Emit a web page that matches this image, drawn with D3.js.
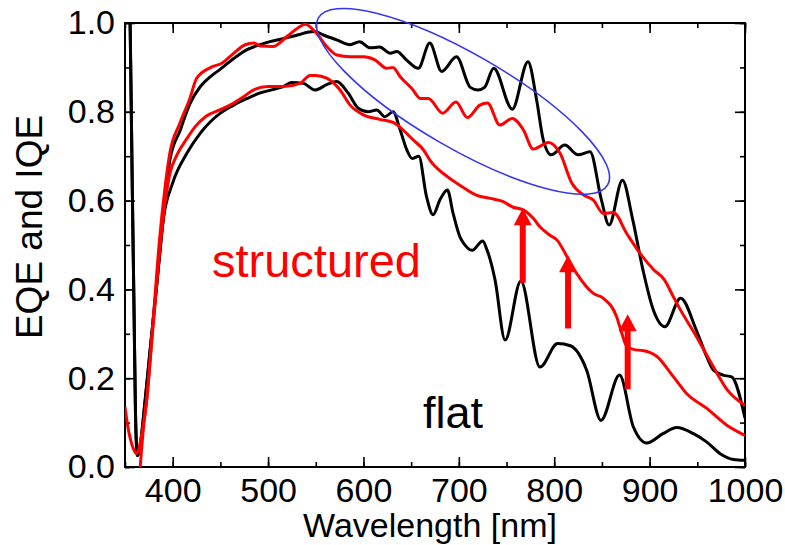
<!DOCTYPE html>
<html>
<head>
<meta charset="utf-8">
<script src="https://cdn.jsdelivr.net/npm/d3@7"></script>
<style>
  body { margin: 0; background: #fff; }
  text { font-family: "Liberation Sans", Arial, sans-serif; }
</style>
</head>
<body>
<script>
// flat cell, IQE (upper black)
const wlFlatIQE = [353, 355.5, 357.5, 359.5, 361, 363, 365.5, 369, 376, 383, 390, 397, 408, 418, 429, 440, 450, 464, 478, 490, 502, 518, 533, 541, 549, 558, 572, 586, 596, 607, 617, 628, 635, 645, 657.5, 669.5, 682, 697.5, 712, 720, 727, 736.5, 756, 772.5, 781.5, 788.5, 797, 811, 825, 837.5, 849.5, 857.5, 871.5, 882, 893, 904, 916, 932.5, 949, 960, 967, 977, 986, 1000];
const flatIQE = [1.25, 0.98, 0.65, 0.35, 0.12, 0.026, 0.04, 0.105, 0.256, 0.405, 0.556, 0.691, 0.759, 0.818, 0.857, 0.88, 0.896, 0.92, 0.94, 0.95, 0.958, 0.966, 0.974, 0.979, 0.981, 0.973, 0.962, 0.951, 0.958, 0.944, 0.946, 0.932, 0.936, 0.917, 0.898, 0.955, 0.891, 0.924, 0.855, 0.849, 0.855, 0.898, 0.806, 0.913, 0.827, 0.737, 0.703, 0.725, 0.703, 0.71, 0.601, 0.545, 0.646, 0.56, 0.444, 0.353, 0.316, 0.38, 0.308, 0.248, 0.218, 0.207, 0.203, 0.11];

// flat cell, EQE (lower black)
const wlFlatEQE = [353, 355.5, 357.5, 359.5, 361, 363, 365.5, 369, 376, 383, 390, 400, 415, 429, 450, 463, 478, 491, 505, 516, 525, 537, 549, 561.5, 572, 584, 594.5, 605, 614, 622.5, 631, 638.5, 645.5, 651, 658, 666, 673, 680, 688, 694, 701, 705, 714, 725, 729.5, 733, 738, 748.5, 765, 785, 803.5, 817, 834, 849, 868.5, 883, 897, 914, 928.5, 946, 960, 974, 988, 1000];
const flatEQE = [1.25, 0.98, 0.65, 0.35, 0.12, 0.026, 0.04, 0.105, 0.256, 0.405, 0.556, 0.64, 0.707, 0.752, 0.797, 0.814, 0.83, 0.842, 0.85, 0.857, 0.866, 0.864, 0.849, 0.861, 0.868, 0.842, 0.808, 0.8, 0.804, 0.789, 0.8, 0.759, 0.714, 0.695, 0.7, 0.61, 0.568, 0.601, 0.624, 0.571, 0.519, 0.504, 0.488, 0.509, 0.489, 0.466, 0.421, 0.286, 0.419, 0.225, 0.278, 0.273, 0.218, 0.105, 0.207, 0.09, 0.054, 0.075, 0.089, 0.075, 0.056, 0.03, 0.017, 0.015];

// structured cell, IQE (upper red)
const wlStructIQE = [350, 353, 356, 359, 362, 365, 368, 372.5, 379.5, 386.5, 392, 397, 407.5, 418, 425, 440, 452, 463, 476, 485, 492, 505, 520, 532, 539, 549, 561.5, 572, 586, 600, 612, 624.5, 631, 638.5, 650.5, 660, 668, 683, 697, 709, 722, 730, 743, 756, 767.5, 778, 794, 806, 818.5, 830.5, 841, 851.5, 862, 876, 890, 904, 915, 925, 932, 946, 967, 981, 1000];
const structIQE = [0.135, 0.09, 0.06, 0.04, 0.03, 0.045, 0.08, 0.143, 0.331, 0.519, 0.63, 0.707, 0.774, 0.83, 0.875, 0.9, 0.91, 0.93, 0.951, 0.955, 0.948, 0.947, 0.97, 0.99, 0.997, 0.981, 0.947, 0.928, 0.924, 0.924, 0.917, 0.898, 0.9, 0.879, 0.853, 0.83, 0.83, 0.797, 0.822, 0.787, 0.815, 0.82, 0.77, 0.785, 0.76, 0.716, 0.731, 0.707, 0.639, 0.613, 0.601, 0.571, 0.573, 0.526, 0.481, 0.445, 0.423, 0.383, 0.355, 0.305, 0.225, 0.175, 0.139];

// structured cell, EQE (lower red)
const wlStructEQE = [364.5, 366, 369, 373, 380, 387, 393, 397, 405, 415, 423, 435, 450, 463.5, 475, 484.5, 500, 516, 533.5, 544, 550, 561.5, 575.5, 586, 600, 617, 631, 645, 652, 663, 670, 688, 703, 719, 733, 746, 757, 767.5, 778, 785, 795.5, 803, 809.5, 813, 823.5, 841, 851.5, 865.5, 871, 876, 883, 893, 900, 907, 925, 939, 960, 981, 1000];
const structEQE = [-0.05, 0, 0.08, 0.16, 0.33, 0.5, 0.61, 0.66, 0.705, 0.74, 0.765, 0.79, 0.805, 0.819, 0.835, 0.849, 0.857, 0.857, 0.864, 0.882, 0.882, 0.876, 0.849, 0.815, 0.793, 0.783, 0.776, 0.752, 0.737, 0.714, 0.69, 0.654, 0.632, 0.612, 0.605, 0.598, 0.585, 0.579, 0.56, 0.541, 0.522, 0.511, 0.489, 0.475, 0.436, 0.391, 0.38, 0.338, 0.3, 0.272, 0.265, 0.262, 0.258, 0.25, 0.203, 0.165, 0.132, 0.094, 0.071];

// arrows (wavelength, from, to)
const arrowWl = [767, 814.5, 877];
const arrowFrom = [0.415, 0.312, 0.175];
const arrowTo = [0.583, 0.477, 0.344];

const xTicks = [400, 500, 600, 700, 800, 900, 1000];
const yTicks = [0, 0.2, 0.4, 0.6, 0.8, 1.0];

const W = 785, H = 545;
const margin = {top: 23, right: 40, bottom: 78, left: 125};

const svg = d3.select("body").append("svg")
  .attr("width", W)
  .attr("height", H);

const x = d3.scaleLinear().domain([350, 1000]).range([margin.left, W - margin.right]);
const y = d3.scaleLinear().domain([0, 1]).range([H - margin.bottom, margin.top]);

svg.append("clipPath").attr("id", "plot")
  .append("rect")
  .attr("x", margin.left).attr("y", margin.top)
  .attr("width", W - margin.left - margin.right)
  .attr("height", H - margin.top - margin.bottom);

// axes, ticks inward
const fs = "34px";
svg.append("g")
  .attr("transform", `translate(0,${y(0)})`)
  .call(d3.axisBottom(x).tickValues(xTicks).tickSize(-10).tickSizeOuter(0).tickPadding(11).tickFormat(d3.format("d")));
svg.append("g")
  .attr("transform", `translate(0,${y(0)})`)
  .call(d3.axisBottom(x).tickValues(d3.range(350, 1001, 50)).tickSize(-5).tickSizeOuter(0).tickFormat(""));
svg.append("g")
  .attr("transform", `translate(0,${y(1)})`)
  .call(d3.axisTop(x).tickValues(xTicks).tickSize(-10).tickSizeOuter(0).tickFormat(""));
svg.append("g")
  .attr("transform", `translate(0,${y(1)})`)
  .call(d3.axisTop(x).tickValues(d3.range(350, 1001, 50)).tickSize(-5).tickSizeOuter(0).tickFormat(""));

svg.append("g")
  .attr("transform", `translate(${x(350)},0)`)
  .call(d3.axisLeft(y).tickValues(yTicks).tickSize(-10).tickSizeOuter(0).tickPadding(10).tickFormat(d3.format(".1f")));
svg.append("g")
  .attr("transform", `translate(${x(350)},0)`)
  .call(d3.axisLeft(y).tickValues(d3.range(0, 1.01, 0.1)).tickSize(-5).tickSizeOuter(0).tickFormat(""));
svg.append("g")
  .attr("transform", `translate(${x(1000)},0)`)
  .call(d3.axisRight(y).tickValues(yTicks).tickSize(-10).tickSizeOuter(0).tickFormat(""));
svg.append("g")
  .attr("transform", `translate(${x(1000)},0)`)
  .call(d3.axisRight(y).tickValues(d3.range(0, 1.01, 0.1)).tickSize(-5).tickSizeOuter(0).tickFormat(""));

svg.selectAll(".domain").remove();
svg.selectAll(".tick line").attr("stroke", "#000").attr("stroke-width", 1.6);
svg.selectAll(".tick text")
  .attr("font-size", fs)
  .attr("font-family", "Liberation Sans, Arial, sans-serif")
  .attr("fill", "#000");

// frame
svg.append("rect")
  .attr("x", x(350)).attr("y", y(1))
  .attr("width", x(1000) - x(350))
  .attr("height", y(0) - y(1))
  .attr("fill", "none")
  .attr("stroke", "#000")
  .attr("stroke-width", 2);

// curves
const line = d3.line()
  .x(d => x(d[0]))
  .y(d => y(d[1]))
  .curve(d3.curveMonotoneX);

const series = [
  {wl: wlFlatEQE, v: flatEQE, c: "#000"},
  {wl: wlFlatIQE, v: flatIQE, c: "#000"},
  {wl: wlStructEQE, v: structEQE, c: "#ff0000"},
  {wl: wlStructIQE, v: structIQE, c: "#ff0000"}
];

const plot = svg.append("g").attr("clip-path", "url(#plot)");
series.forEach(s => {
  plot.append("path")
    .datum(d3.zip(s.wl, s.v))
    .attr("d", line)
    .attr("fill", "none")
    .attr("stroke", s.c)
    .attr("stroke-width", 3)
    .attr("stroke-linejoin", "round");
});

// blue ellipse around the oscillations
const ex = x(704.4), ey = y(0.8235);
svg.append("ellipse")
  .attr("cx", ex).attr("cy", ey)
  .attr("rx", 167).attr("ry", 47)
  .attr("transform", `rotate(30,${ex},${ey})`)
  .attr("fill", "none")
  .attr("stroke", "#3636f0")
  .attr("stroke-width", 1.6);

// red arrows
const headH = 17, headW = 9;
arrowWl.forEach((w, i) => {
  const ax = x(w), y0 = y(arrowFrom[i]), y1 = y(arrowTo[i]);
  svg.append("line")
    .attr("x1", ax).attr("x2", ax)
    .attr("y1", y0).attr("y2", y1 + headH - 1)
    .attr("stroke", "#ff0000")
    .attr("stroke-width", 6);
  svg.append("path")
    .attr("d", `M${ax},${y1} L${ax - headW},${y1 + headH} L${ax + headW},${y1 + headH} Z`)
    .attr("fill", "#ff0000");
});

// labels
svg.append("text")
  .attr("x", x(441.2)).attr("y", y(0.428))
  .attr("font-size", "47px")
  .attr("fill", "#ff0000")
  .text("structured");

svg.append("text")
  .attr("x", x(662.4)).attr("y", y(0.087))
  .attr("font-size", "45px")
  .attr("fill", "#000")
  .text("flat");

svg.append("text")
  .attr("x", 430).attr("y", 537)
  .attr("text-anchor", "middle")
  .attr("font-size", "34px")
  .text("Wavelength [nm]");

svg.append("text")
  .attr("transform", "translate(42,227) rotate(-90)")
  .attr("text-anchor", "middle")
  .attr("font-size", "37px")
  .text("EQE and IQE");
</script>
</body>
</html>
